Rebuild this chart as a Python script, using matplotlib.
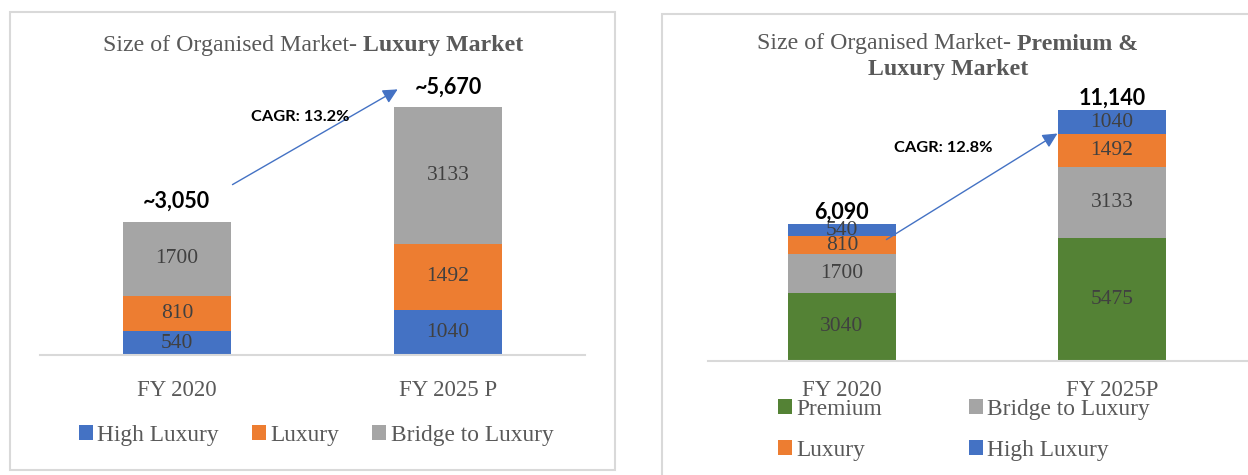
import matplotlib.pyplot as plt
from matplotlib.patches import Rectangle

years_left = ['FY 2020', 'FY 2025 P']
years_right = ['FY 2020', 'FY 2025P']

high_luxury = [540, 1040]
luxury = [810, 1492]
bridge = [1700, 3133]
premium = [3040, 5475]

totals_left = ['~3,050', '~5,670']
totals_right = ['6,090', '11,140']
cagr_left = 'CAGR: 13.2%'
cagr_right = 'CAGR: 12.8%'

c_blue = '#4472C4'
c_orange = '#ED7D31'
c_gray = '#A5A5A5'
c_green = '#548235'
txt_gray = '#595959'
lab_gray = '#404040'
line_gray = '#D9D9D9'

serif = 'Liberation Serif'
sans = 'Lato'

W, H = 1248, 475
fig = plt.figure(figsize=(W / 100, H / 100), dpi=100)

def fx(px):
    return px / W

def fy(py):
    return 1 - py / H

# panel borders
fig.patches.append(Rectangle((fx(10), fy(470)), fx(605), (470 - 12) / H, transform=fig.transFigure,
                             fill=False, ec=line_gray, lw=1.5))
fig.patches.append(Rectangle((fx(662), fy(500)), fx(650), (500 - 14) / H, transform=fig.transFigure,
                             fill=False, ec=line_gray, lw=1.5))


def style_axis(ax):
    for s in ['top', 'right', 'left']:
        ax.spines[s].set_visible(False)
    ax.spines['bottom'].set_color(line_gray)
    ax.spines['bottom'].set_linewidth(1.5)
    ax.set_yticks([])
    ax.tick_params(axis='x', length=0, pad=18)
    for t in ax.get_xticklabels():
        t.set_fontfamily(serif)
        t.set_fontsize(16.5)
        t.set_color(txt_gray)


# ---- left chart ----
ax1 = fig.add_axes([fx(40), fy(355), fx(545), (355 - 60) / H])
x = [0, 1]
bw = 0.40
b1 = ax1.bar(x, high_luxury, bw, color=c_blue, label='High Luxury')
b2 = ax1.bar(x, luxury, bw, bottom=high_luxury, color=c_orange, label='Luxury')
bot3 = [a + b for a, b in zip(high_luxury, luxury)]
b3 = ax1.bar(x, bridge, bw, bottom=bot3, color=c_gray, label='Bridge to Luxury')
for bars in (b1, b2, b3):
    ax1.bar_label(bars, label_type='center', fontfamily=serif, fontsize=15.5, color=lab_gray)
ax1.set_xlim(-0.505, 1.505)
ax1.set_ylim(0, 6750)
ax1.set_xticks(x, years_left)
style_axis(ax1)
tops = [a + b for a, b in zip(bot3, bridge)]
for i in x:
    ax1.annotate(totals_left[i], (i, tops[i]), xytext=(0, 7), textcoords='offset points',
                 ha='center', va='bottom', fontfamily=sans, fontweight='bold', fontsize=15.5, color='black')
ax1.annotate('', xy=(0.823, 6110), xytext=(0.196, 3867),
             arrowprops=dict(arrowstyle='-|>', color=c_blue, lw=1, mutation_scale=22))
ax1.text(0.454, 5446, cagr_left, ha='center', va='center', fontfamily=sans, fontweight='bold', fontsize=11.8)

fig.text(fx(357), fy(46), 'Size of Organised Market-', ha='right', va='center',
         fontfamily=serif, fontsize=17.2, color=txt_gray)
fig.text(fx(363), fy(46), 'Luxury Market', ha='left', va='center',
         fontfamily=serif, fontsize=17.2, fontweight='bold', color=txt_gray)

fig.legend(handles=[b1, b2, b3], loc='center', bbox_to_anchor=(fx(316), fy(435)), ncol=3,
           frameon=False, prop={'family': serif, 'size': 16.8}, labelcolor=txt_gray,
           handlelength=0.6, handleheight=0.6, handletextpad=0.2, columnspacing=1.4)

# ---- right chart ----
ax2 = fig.add_axes([fx(708), fy(361), fx(540), (361 - 60) / H])
p1 = ax2.bar(x, premium, bw, color=c_green, label='Premium')
p2 = ax2.bar(x, bridge, bw, bottom=premium, color=c_gray, label='Bridge to Luxury')
bot = [a + b for a, b in zip(premium, bridge)]
p3 = ax2.bar(x, luxury, bw, bottom=bot, color=c_orange, label='Luxury')
bot2 = [a + b for a, b in zip(bot, luxury)]
p4 = ax2.bar(x, high_luxury, bw, bottom=bot2, color=c_blue, label='High Luxury')
for bars in (p1, p2, p3, p4):
    ax2.bar_label(bars, label_type='center', fontfamily=serif, fontsize=15.5, color=lab_gray)
ax2.set_xlim(-0.496, 1.504)
ax2.set_ylim(0, 13380)
ax2.set_xticks(x, years_right)
style_axis(ax2)
ax2.tick_params(axis='x', pad=14)
tops2 = [a + b for a, b in zip(bot2, high_luxury)]
for i in x:
    ax2.annotate(totals_right[i], (i, tops2[i]), xytext=(0, 1), textcoords='offset points',
                 ha='center', va='bottom', fontfamily=sans, fontweight='bold', fontsize=15.5, color='black')
ax2.annotate('', xy=(0.807, 10178), xytext=(0.156, 5333),
             arrowprops=dict(arrowstyle='-|>', color=c_blue, lw=1, mutation_scale=22))
ax2.text(0.374, 9467, cagr_right, ha='center', va='center', fontfamily=sans, fontweight='bold', fontsize=11.8)

fig.text(fx(1011), fy(44), 'Size of Organised Market-', ha='right', va='center',
         fontfamily=serif, fontsize=17.2, color=txt_gray)
fig.text(fx(1017), fy(44), 'Premium &', ha='left', va='center',
         fontfamily=serif, fontsize=17.2, fontweight='bold', color=txt_gray)
fig.text(fx(948), fy(70), 'Luxury Market', ha='center', va='center',
         fontfamily=serif, fontsize=17.2, fontweight='bold', color=txt_gray)

fig.legend(handles=[p1, p3, p2, p4], loc='center left', bbox_to_anchor=(fx(757), fy(430)), ncol=2,
           frameon=False, prop={'family': serif, 'size': 16.8}, labelcolor=txt_gray,
           handlelength=0.6, handleheight=0.6, handletextpad=0.2, columnspacing=3.7, labelspacing=0.85)

fig.savefig('out.png', dpi=100)
